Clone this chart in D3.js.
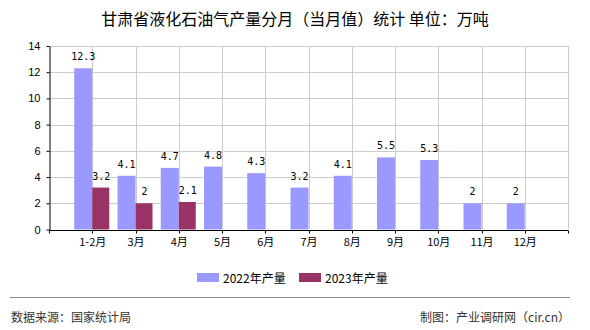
<!DOCTYPE html>
<html>
<head>
<meta charset="utf-8">
<script src="https://cdn.jsdelivr.net/npm/d3@7"></script>
<style>
  html, body { margin: 0; padding: 0; background: #fff; }
  svg { display: block; }
</style>
</head>
<body>
<svg id="chart" width="590" height="330"></svg>
<script>
// Monthly output, 10k tonnes
const months = ["1-2月", "3月", "4月", "5月", "6月", "7月", "8月", "9月", "10月", "11月", "12月"];
const values2022 = [12.3, 4.1, 4.7, 4.8, 4.3, 3.2, 4.1, 5.5, 5.3, 2, 2];
const values2023 = [3.2, 2, 2.1, null, null, null, null, null, null, null, null];
const seriesNames = ["2022年产量", "2023年产量"];
const seriesColors = ["#9999FF", "#993366"];
const yTicks = [0, 2, 4, 6, 8, 10, 12, 14];
const titleText = "甘肃省液化石油气产量分月（当月值）统计 单位：万吨";
const sourceText = "数据来源：国家统计局";
const creditText = "制图：产业调研网（cir.cn）";

const svg = d3.select("#chart");
const W = 590;
const plot = { left: 49, right: 568, top: 46, bottom: 229.5 };
const cjk = "'Noto Sans CJK SC', 'Noto Sans', sans-serif";

const x = d3.scalePoint().domain(months).range([plot.left, plot.right]).padding(1);
const y = d3.scaleLinear().domain([0, 14]).range([plot.bottom, plot.top]);
const barW = 18;

// Title
svg.append("text")
  .attr("x", W / 2).attr("y", 18)
  .attr("text-anchor", "middle").attr("dominant-baseline", "central")
  .style("font-family", cjk).style("font-size", "16px").attr("fill", "#000")
  .text(titleText);

// Grid: horizontal lines at each y tick, vertical lines at every category boundary
const grid = svg.append("g").attr("stroke", "#cccccc").attr("stroke-width", 1);
grid.selectAll("line.h").data(yTicks.filter(d => d > 0)).join("line")
  .attr("x1", plot.left).attr("x2", plot.right)
  .attr("y1", d => Math.round(y(d)) + 0.5).attr("y2", d => Math.round(y(d)) + 0.5);
const vLines = months.map(m => x(m)).concat([plot.right]);
grid.selectAll("line.v").data(vLines).join("line")
  .attr("x1", d => Math.round(d) + 0.5).attr("x2", d => Math.round(d) + 0.5)
  .attr("y1", plot.top).attr("y2", plot.bottom);

// Bars
const bars = svg.append("g");
bars.selectAll("rect.s0").data(months).join("rect")
  .attr("x", d => x(d) - barW)
  .attr("y", (d, i) => y(values2022[i]))
  .attr("width", barW)
  .attr("height", (d, i) => y(0) - y(values2022[i]))
  .attr("fill", seriesColors[0]);
bars.selectAll("rect.s1").data(months.filter((d, i) => values2023[i] != null)).join("rect")
  .attr("x", d => x(d))
  .attr("y", (d, i) => y(values2023[i]))
  .attr("width", barW - 1)
  .attr("height", (d, i) => y(0) - y(values2023[i]))
  .attr("fill", seriesColors[1]);

// Value labels
const labelFont = "'DejaVu Sans Mono', 'Liberation Mono', monospace";
const labels = svg.append("g")
  .style("font-family", labelFont).style("font-size", "10px").attr("fill", "#000")
  .attr("text-anchor", "middle");
labels.selectAll("text.s0").data(months).join("text")
  .attr("x", d => x(d) - barW / 2)
  .attr("y", (d, i) => y(values2022[i]) - 8)
  .text((d, i) => values2022[i]);
labels.selectAll("text.s1").data(months.filter((d, i) => values2023[i] != null)).join("text")
  .attr("x", d => x(d) + barW / 2)
  .attr("y", (d, i) => y(values2023[i]) - 8)
  .text((d, i) => values2023[i]);

// Y axis
const yAxis = svg.append("g")
  .attr("transform", `translate(${plot.left + 0.5},0)`)
  .call(d3.axisLeft(y).tickValues(yTicks).tickSize(3).tickPadding(6).tickSizeOuter(0));
yAxis.select(".domain").attr("stroke", "#000");
yAxis.selectAll(".tick line").attr("stroke", "#000");
yAxis.selectAll("text").style("font-family", "'Liberation Sans', Arial, sans-serif")
  .style("font-size", "11px").attr("fill", "#000");

// X axis
const xAxis = svg.append("g")
  .attr("transform", `translate(0,${Math.round(plot.bottom) + 0.5})`)
  .call(d3.axisBottom(x).tickSize(0).tickPadding(8).tickSizeOuter(0));
xAxis.select(".domain").attr("stroke", "#000").attr("d", `M${plot.left},0H${plot.right}`);
xAxis.selectAll("text").style("font-family", cjk).style("font-size", "11px").attr("fill", "#000");
xAxis.selectAll("line.edge").data([plot.left].concat(vLines)).join("line")
  .attr("class", "edge")
  .attr("x1", d => Math.round(d) + 0.5).attr("x2", d => Math.round(d) + 0.5)
  .attr("y1", 0).attr("y2", 3).attr("stroke", "#000");

// Legend
const legend = svg.append("g").style("font-family", cjk).style("font-size", "12px");
const legendX = [197, 299];
seriesNames.forEach((name, i) => {
  legend.append("rect").attr("x", legendX[i]).attr("y", 273).attr("width", 22).attr("height", 9)
    .attr("fill", seriesColors[i]);
  legend.append("text").attr("x", legendX[i] + 26).attr("y", 277.5)
    .attr("dominant-baseline", "central").attr("fill", "#000").text(name);
});

// Footer
svg.append("line").attr("x1", 10).attr("x2", 570).attr("y1", 297.5).attr("y2", 297.5)
  .attr("stroke", "#888").attr("stroke-width", 1);
svg.append("text").attr("x", 11).attr("y", 316).attr("dominant-baseline", "central")
  .style("font-family", cjk).style("font-size", "12px").attr("fill", "#333").text(sourceText);
svg.append("text").attr("x", 570).attr("y", 316).attr("dominant-baseline", "central")
  .attr("text-anchor", "end")
  .style("font-family", cjk).style("font-size", "12px").attr("fill", "#333").text(creditText);
</script>
</body>
</html>
